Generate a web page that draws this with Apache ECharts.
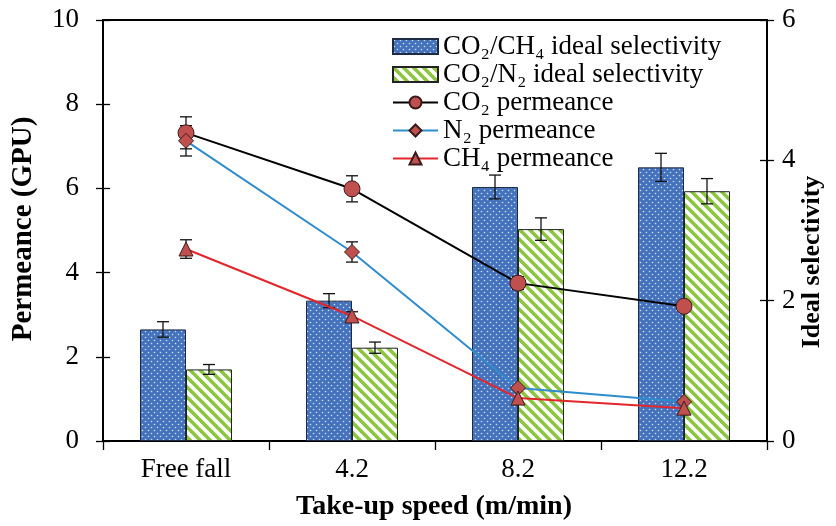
<!DOCTYPE html>
<html>
<head>
<meta charset="utf-8">
<script src="https://cdn.jsdelivr.net/npm/echarts@6/dist/echarts.min.js"></script>
<style>
  html, body { margin: 0; padding: 0; background: #fff; }
  #chart { width: 836px; height: 526px; }
</style>
</head>
<body>
<div id="chart"></div>
<script>
// data
const categories = ['Free fall', '4.2', '8.2', '12.2'];
const selCH4 = [1.59, 2.0, 3.62, 3.9];
const selCH4Err = [0.11, 0.1, 0.17, 0.2];
const selN2 = [1.02, 1.33, 3.02, 3.56];
const selN2Err = [0.07, 0.08, 0.16, 0.18];
const co2 = [7.32, 5.99, 3.75, 3.2];
const co2Err = [0.38, 0.31, 0.15, 0];
const n2 = [7.13, 4.49, 1.26, 0.93];
const n2Err = [0.36, 0.24, 0, 0];
const ch4 = [4.56, 2.97, 1.02, 0.78];
const ch4Err = [0.22, 0.1, 0, 0];

const FONT = '"Liberation Serif", "Times New Roman", serif';
const BAR_W = 46;

// blue with white dots
function dotPattern() {
  const c = document.createElement('canvas');
  c.width = 6; c.height = 6;
  const ctx = c.getContext('2d');
  ctx.fillStyle = '#4572bd';
  ctx.fillRect(0, 0, 6, 6);
  ctx.fillStyle = '#d3e0f3';
  ctx.beginPath(); ctx.arc(1.5, 1.5, 0.8, 0, Math.PI * 2); ctx.fill();
  ctx.beginPath(); ctx.arc(4.5, 4.5, 0.8, 0, Math.PI * 2); ctx.fill();
  return c;
}

// white with green diagonal stripes
function stripePattern() {
  const s = 10;
  const c = document.createElement('canvas');
  c.width = s; c.height = s;
  const ctx = c.getContext('2d');
  ctx.fillStyle = '#ffffff';
  ctx.fillRect(0, 0, s, s);
  ctx.strokeStyle = '#8cc63f';
  ctx.lineWidth = 3.6;
  [-s, 0, s].forEach(function (o) {
    ctx.beginPath();
    ctx.moveTo(o - 1, -1);
    ctx.lineTo(o + s + 1, s + 1);
    ctx.stroke();
  });
  return c;
}

function errData(vals, errs) {
  return vals.map(function (v, i) { return [i, v, errs[i]]; });
}

function errRender(offset) {
  return function (params, api) {
    const e = api.value(2);
    if (!e) return null;
    const i = api.value(0), v = api.value(1);
    const x = api.coord([i, v])[0] + offset;
    const top = api.coord([i, v + e])[1];
    const bot = api.coord([i, v - e])[1];
    const w = 6;
    const st = { stroke: '#111', lineWidth: 1.3 };
    return {
      type: 'group',
      children: [
        { type: 'line', shape: { x1: x, y1: top, x2: x, y2: bot }, style: st },
        { type: 'line', shape: { x1: x - w, y1: top, x2: x + w, y2: top }, style: st },
        { type: 'line', shape: { x1: x - w, y1: bot, x2: x + w, y2: bot }, style: st }
      ]
    };
  };
}

const markerStyle = { color: '#c0504d', borderColor: '#3a1a1a', borderWidth: 1 };
const tickLabel = { fontFamily: FONT, fontSize: 27, color: '#000' };

const chart = echarts.init(document.getElementById('chart'));

const option = {
  backgroundColor: '#fff',
  animation: false,
  textStyle: { fontFamily: FONT, color: '#000' },
  grid: {
    left: 103, right: 69, top: 20, bottom: 85,
    show: true, borderColor: '#000', borderWidth: 2, backgroundColor: 'transparent'
  },
  legend: {
    orient: 'vertical',
    left: 387, top: 28,
    itemWidth: 45, itemHeight: 15, itemGap: 1,
    textStyle: { fontFamily: FONT, fontSize: 27, lineHeight: 27, color: '#000' },
    data: [
      { name: 'CO₂/CH₄ ideal selectivity', icon: 'rect' },
      { name: 'CO₂/N₂ ideal selectivity', icon: 'rect' },
      'CO₂ permeance',
      'N₂ permeance',
      'CH₄ permeance'
    ]
  },
  xAxis: {
    type: 'category',
    data: categories,
    boundaryGap: true,
    axisLine: { lineStyle: { color: '#000', width: 2 } },
    axisTick: { show: true, length: 9, lineStyle: { color: '#000', width: 1.3 } },
    axisLabel: Object.assign({ margin: 15 }, tickLabel)
  },
  yAxis: [
    {
      type: 'value', min: 0, max: 10, interval: 2, position: 'left',
      splitLine: { show: false },
      axisLine: { show: true, lineStyle: { color: '#000', width: 2 } },
      axisTick: { show: true, length: 7, lineStyle: { color: '#000', width: 1.3 } },
      axisLabel: Object.assign({ margin: 24 }, tickLabel)
    },
    {
      type: 'value', min: 0, max: 6, interval: 2, position: 'right',
      splitLine: { show: false },
      axisLine: { show: true, lineStyle: { color: '#000', width: 2 } },
      axisTick: { show: true, length: 7, lineStyle: { color: '#000', width: 1.3 } },
      axisLabel: Object.assign({ margin: 15 }, tickLabel)
    },
    // inner halves of the crossing ticks
    {
      type: 'value', min: 0, max: 10, interval: 2, position: 'left',
      splitLine: { show: false }, axisLine: { show: false }, axisLabel: { show: false },
      axisTick: { show: true, inside: true, length: 7, lineStyle: { color: '#000', width: 1.3 } }
    },
    {
      type: 'value', min: 0, max: 6, interval: 2, position: 'right',
      splitLine: { show: false }, axisLine: { show: false }, axisLabel: { show: false },
      axisTick: { show: true, inside: true, length: 7, lineStyle: { color: '#000', width: 1.3 } }
    }
  ],
  graphic: [
    {
      type: 'text', x: 24, y: 229, rotation: Math.PI / 2,
      style: { text: 'Permeance (GPU)', font: 'bold 29px ' + FONT, fill: '#000', align: 'center', verticalAlign: 'middle' }
    },
    {
      type: 'text', x: 812, y: 262, rotation: Math.PI / 2,
      style: { text: 'Ideal selectivity', font: 'bold 26px ' + FONT, fill: '#000', align: 'center', verticalAlign: 'middle' }
    },
    {
      type: 'text', x: 434, y: 507,
      style: { text: 'Take-up speed (m/min)', font: 'bold 28px ' + FONT, fill: '#000', align: 'center', verticalAlign: 'middle' }
    }
  ],
  series: [
    {
      name: 'CO₂/CH₄ ideal selectivity', type: 'bar', yAxisIndex: 1,
      data: selCH4, barWidth: BAR_W, barGap: '0%', z: 2,
      itemStyle: { color: { image: dotPattern(), repeat: 'repeat' }, borderColor: '#1d2a44', borderWidth: 1 }
    },
    {
      name: 'CO₂/N₂ ideal selectivity', type: 'bar', yAxisIndex: 1,
      data: selN2, barWidth: BAR_W, barGap: '0%', z: 2,
      itemStyle: { color: { image: stripePattern(), repeat: 'repeat' }, borderColor: '#222', borderWidth: 1 }
    },
    {
      type: 'custom', yAxisIndex: 1, z: 3, silent: true,
      data: errData(selCH4, selCH4Err), renderItem: errRender(-BAR_W / 2)
    },
    {
      type: 'custom', yAxisIndex: 1, z: 3, silent: true,
      data: errData(selN2, selN2Err), renderItem: errRender(BAR_W / 2)
    },
    {
      name: 'CO₂ permeance', type: 'line', yAxisIndex: 0, data: co2, z: 5,
      symbol: 'circle', symbolSize: 16,
      lineStyle: { color: '#000', width: 2 }, itemStyle: markerStyle
    },
    {
      name: 'N₂ permeance', type: 'line', yAxisIndex: 0, data: n2, z: 5,
      symbol: 'diamond', symbolSize: 15,
      lineStyle: { color: '#2f8ccc', width: 2 }, itemStyle: markerStyle
    },
    {
      name: 'CH₄ permeance', type: 'line', yAxisIndex: 0, data: ch4, z: 5,
      symbol: 'triangle', symbolSize: 14,
      lineStyle: { color: '#e3262b', width: 2 }, itemStyle: markerStyle
    },
    {
      type: 'custom', yAxisIndex: 0, z: 4, silent: true,
      data: errData(co2, co2Err), renderItem: errRender(0)
    },
    {
      type: 'custom', yAxisIndex: 0, z: 4, silent: true,
      data: errData(n2, n2Err), renderItem: errRender(0)
    },
    {
      type: 'custom', yAxisIndex: 0, z: 4, silent: true,
      data: errData(ch4, ch4Err), renderItem: errRender(0)
    }
  ]
};

chart.setOption(option);
</script>
</body>
</html>
